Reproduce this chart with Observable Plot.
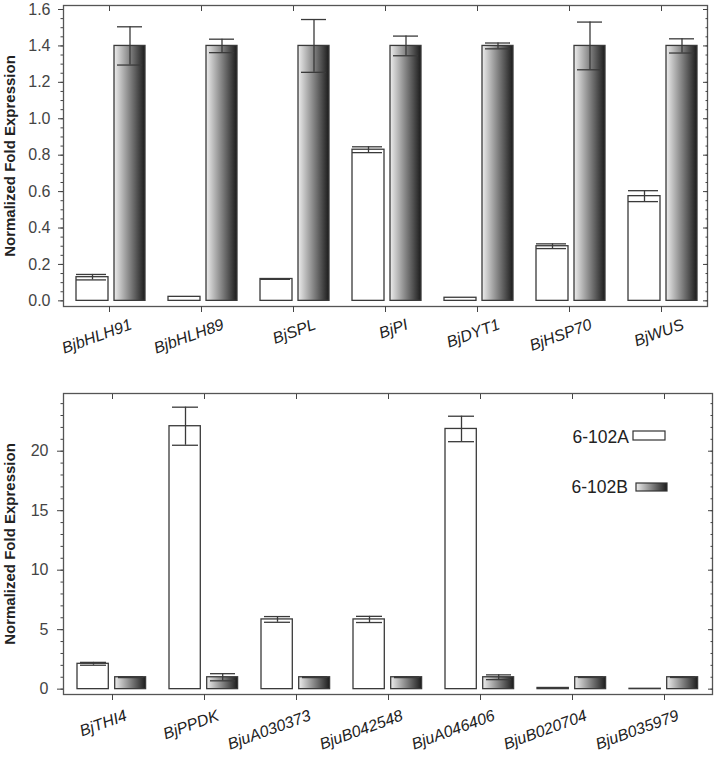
<!DOCTYPE html>
<html><head><meta charset="utf-8">
<script src="https://cdn.jsdelivr.net/npm/d3@7"></script>
<script src="https://cdn.jsdelivr.net/npm/@observablehq/plot@0.6"></script>
<style>
body{margin:0;background:#fff;font-family:"Liberation Sans",Arial,sans-serif}
#c{width:714px}
#c svg{display:block;overflow:visible}
</style>
</head><body><div id="c"></div>
<script>
const topGenes = ["BjbHLH91","BjbHLH89","BjSPL","BjPI","BjDYT1","BjHSP70","BjWUS"];
const topA = [0.13, 0.022, 0.12, 0.83, 0.017, 0.30, 0.575];
const topAErr = [0.015, 0, 0.002, 0.016, 0, 0.013, 0.03];
const topB = [1.4, 1.4, 1.4, 1.4, 1.4, 1.4, 1.4];
const topBErr = [0.105, 0.037, 0.145, 0.054, 0.016, 0.131, 0.039];
const topYTicks = [0, 0.2, 0.4, 0.6, 0.8, 1.0, 1.2, 1.4, 1.6];

const botGenes = ["BjTHI4","BjPPDK","BjuA030373","BjuB042548","BjuA046406","BjuB020704","BjuB035979"];
const botA = [2.13, 22.1, 5.86, 5.86, 21.87, 0.1, 0.03];
const botAErr = [0.12, 1.6, 0.24, 0.26, 1.07, 0, 0];
const botB = [1.0, 1.0, 1.0, 1.0, 1.0, 1.0, 1.0];
const botBErr = [0.03, 0.3, 0.03, 0.03, 0.2, 0.02, 0.02];
const botYTicks = [0, 5, 10, 15, 20];

const seriesNames = ["6-102A", "6-102B"];
const yTitle = "Normalized Fold Expression";
const labelAngle = 20;

function chart(o) {
  const rows = o.genes.map((g, i) => ({gene: g, a: o.A[i], ae: o.AErr[i], b: o.B[i], be: o.BErr[i]}));
  const minor = d3.range(0, o.minorMax + 1e-9, o.minorStep);
  const ink = "#3a3a3a";
  const ins = o.ins;
  const marks = [
    () => {
      const defs = d3.create("svg:defs");
      const lg = defs.append("linearGradient").attr("id", o.gradId)
        .attr("x1", 0).attr("x2", 1).attr("y1", 0).attr("y2", 0);
      lg.append("stop").attr("offset", "0%").attr("stop-color", "#ededed");
      lg.append("stop").attr("offset", "100%").attr("stop-color", "#1c1c1c");
      return defs.node();
    },
    Plot.barY(rows, {x: "gene", y: "a", fill: "white", stroke: ink, strokeWidth: 1.3, insetLeft: ins.aL, insetRight: ins.aR}),
    Plot.barY(rows, {x: "gene", y: "b", fill: `url(#${o.gradId})`, stroke: ink, strokeWidth: 1.3, insetLeft: ins.bL, insetRight: ins.bR}),
    Plot.ruleX(rows.filter(d => d.ae > 0), {x: "gene", y1: d => d.a - d.ae, y2: d => d.a + d.ae, dx: ins.aC, stroke: ink, strokeWidth: 1.3}),
    Plot.tickY(rows.filter(d => d.ae > 0), {x: "gene", y: d => d.a + d.ae, insetLeft: ins.acL, insetRight: ins.acR, stroke: ink, strokeWidth: 1.3}),
    Plot.tickY(rows.filter(d => d.ae > 0), {x: "gene", y: d => d.a - d.ae, insetLeft: ins.acL, insetRight: ins.acR, stroke: ink, strokeWidth: 1.3}),
    Plot.ruleX(rows, {x: "gene", y1: d => d.b - d.be, y2: d => d.b + d.be, dx: ins.bC, stroke: ink, strokeWidth: 1.3}),
    Plot.tickY(rows, {x: "gene", y: d => d.b + d.be, insetLeft: ins.bcL, insetRight: ins.bcR, stroke: ink, strokeWidth: 1.3}),
    Plot.tickY(rows, {x: "gene", y: d => d.b - d.be, insetLeft: ins.bcL, insetRight: ins.bcR, stroke: ink, strokeWidth: 1.3}),
    Plot.frame({stroke: "#555", strokeWidth: 1.3}),
    Plot.axisY({ticks: o.yTicks, tickSize: o.tickMaj, tickPadding: o.tickPad, tickFormat: o.fmt, fontSize: 16, color: "#444", label: null}),
    Plot.axisY({ticks: minor, tickSize: 2.5, text: null, label: null, color: "#444"}),
    Plot.axisY({anchor: "right", ticks: o.yTicks, tickSize: -5, text: null, label: null, color: "#444"}),
    Plot.axisY({anchor: "right", ticks: minor, tickSize: -2.5, text: null, label: null, color: "#444"}),
    Plot.axisX({anchor: "top", tickSize: -5, text: null, label: null, color: "#444"}),
    Plot.axisX({anchor: "bottom", tickSize: 6, text: null, label: null, color: "#444"}),
    // slanted gene labels: text laid along a slanted path, placed through the x and y scales
    (index, scales) => {
      const sx = scales.x, sy = scales.y;
      const half = (sx(o.genes[1]) - sx(o.genes[0])) / 2;
      const y0 = sy(o.yDomain[0]);
      const rad = labelAngle * Math.PI / 180, L = 200;
      const g = d3.create("svg:g");
      const defs = g.append("defs");
      o.genes.forEach((gene, i) => {
        const ex = sx(gene) + half + o.labDx, ey = y0 + o.labDy;
        const id = `${o.gradId}-lab-${i}`;
        defs.append("path").attr("id", id)
          .attr("d", `M${ex - L * Math.cos(rad)},${ey + L * Math.sin(rad)}L${ex},${ey}`);
        g.append("text")
          .attr("font-family", "Liberation Sans, Arial, sans-serif")
          .attr("font-size", 16).attr("font-style", "italic").attr("fill", "#222")
          .attr("text-anchor", "end").attr("dy", "0.72em")
          .append("textPath").attr("href", `#${id}`).attr("startOffset", "100%")
          .text(gene);
      });
      return g.node();
    },
    Plot.text([yTitle], {frameAnchor: "left", dx: -53, rotate: -90, textAnchor: "middle", lineAnchor: "middle",
      fontSize: 15, fontWeight: "bold", fill: "#222"})
  ];
  if (o.legend) {
    marks.push(() => {
      const g = d3.create("svg:g");
      const spec = [
        {name: seriesNames[0], tx: 629, ty: 62, bx: 633, by: 56, bw: 32, bh: 9, fill: "white"},
        {name: seriesNames[1], tx: 628, ty: 112, bx: 636, by: 108, bw: 31, bh: 8, fill: `url(#${o.gradId})`}
      ];
      for (const s of spec) {
        g.append("text").attr("x", s.tx).attr("y", s.ty).attr("text-anchor", "end")
          .attr("dominant-baseline", "central").attr("font-size", 17.5).attr("fill", "#222")
          .attr("font-family", "Liberation Sans, Arial, sans-serif").text(s.name);
        g.append("rect").attr("x", s.bx).attr("y", s.by).attr("width", s.bw).attr("height", s.bh)
          .attr("fill", s.fill).attr("stroke", "#333").attr("stroke-width", 1.2);
      }
      return g.node();
    });
  }
  return Plot.plot({
    width: 714, height: o.height,
    marginTop: o.mt, marginBottom: o.mb, marginLeft: 63, marginRight: o.mr,
    style: {fontFamily: "Liberation Sans, Arial, sans-serif", background: "white"},
    x: {domain: o.genes, padding: 0, axis: null},
    y: {domain: o.yDomain, axis: null},
    marks
  });
}

const c = document.getElementById("c");
c.appendChild(chart({
  genes: topGenes, A: topA, AErr: topAErr, B: topB, BErr: topBErr,
  yDomain: [-0.031, 1.622], yTicks: topYTicks, minorStep: 0.05, minorMax: 1.6, fmt: ".1f",
  height: 375, mt: 5, mb: 69, mr: 7, tickMaj: 5, tickPad: 8,
  ins: {aL: 13, aR: 47, bL: 51, bR: 10, aC: -17, bC: 20.5, acL: 13, acR: 49, bcL: 54, bcR: 13},
  labDx: 20, labDy: 12, gradId: "gradTop", legend: false
}));
c.appendChild(chart({
  genes: botGenes, A: botA, AErr: botAErr, B: botB, BErr: botBErr,
  yDomain: [-0.45, 24.85], yTicks: botYTicks, minorStep: 1, minorMax: 24, fmt: "d",
  height: 393, mt: 18, mb: 74, mr: 2, tickMaj: 6, tickPad: 9,
  ins: {aL: 11, aR: 49.7, bL: 48.7, bR: 12.4, aC: -19, bC: 18.2, acL: 14, acR: 52, bcL: 52, bcR: 15},
  labDx: 12, labDy: 15, gradId: "gradBot", legend: true
}));
</script>
</body></html>
